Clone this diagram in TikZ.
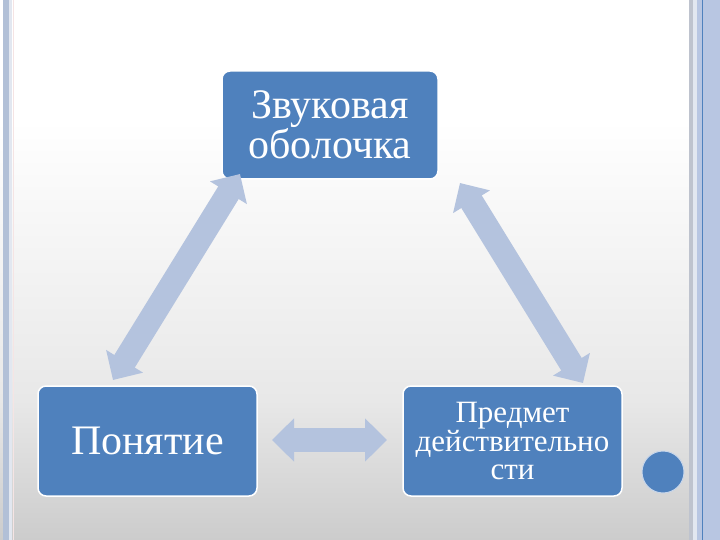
\documentclass[tikz,border=0pt]{standalone}
\usepackage{fontspec}
\setmainfont{Liberation Serif}
\usetikzlibrary{arrows.meta}
\definecolor{boxblue}{RGB}{79,129,189}
\definecolor{arrowblue}{RGB}{180,195,222}
\definecolor{stripeA}{RGB}{178,192,215}
\definecolor{stripeB}{RGB}{226,231,240}
\definecolor{stripeC}{RGB}{184,198,226}
\definecolor{stripeG}{RGB}{190,195,206}
\definecolor{pinkline}{RGB}{245,228,228}
\definecolor{dotrim}{RGB}{200,214,234}
\begin{document}
\begin{tikzpicture}[x=1pt,y=-1pt,
  blockbox/.style={draw=white, line width=1.5pt, fill=boxblue, rounded corners=8pt,
    text=white, align=center, inner sep=0pt},
  bigtext/.style={font=\fontsize{42}{38}\selectfont},
  smalltext/.style={font=\fontsize{31}{28.5}\selectfont},
  blockarrow/.style={draw=arrowblue, line width=24pt,
    {Triangle[width=42pt,length=22pt]}-{Triangle[width=42pt,length=22pt]}}]
\useasboundingbox (0,0) rectangle (720,540);
% background
\fill[white] (0,0) rectangle (720,120);
\shade[top color=white, bottom color={rgb,255:red,232;green,232;blue,232}] (0,120) rectangle (720,400);
\shade[top color={rgb,255:red,232;green,232;blue,232}, bottom color={rgb,255:red,204;green,204;blue,204}] (0,400) rectangle (720,540);
% left border
\fill[stripeA] (3,0) rectangle (9,540);
\fill[stripeB] (9,0) rectangle (12,540);
\draw[pinkline, line width=1pt] (13,0) -- (13,540);
% right border
\fill[stripeG] (689,0) rectangle (693,540);
\fill[stripeB] (693,0) rectangle (697,540);
\fill[stripeC] (697,0) rectangle (720,540);
\draw[boxblue, line width=1.2pt] (702.5,0) -- (702.5,540);
% boxes
\node[blockbox, bigtext, minimum width=216pt, minimum height=108pt] (top) at (330,125)
  {Звуковая\\оболочка};
\node[blockbox, bigtext, minimum width=219pt, minimum height=110pt] (left) at (147.5,441)
  {Понятие};
\node[blockbox, smalltext, minimum width=219pt, minimum height=110pt] (right) at (512.5,441)
  {Предмет\\действительно\\сти};
% arrow end points
\coordinate (lt) at (240,174);
\coordinate (lb) at (113,380);
\coordinate (rt) at (460,183);
\coordinate (rb) at (583,383);
\coordinate (hl) at (272,440);
\coordinate (hr) at (387,440);
\draw[blockarrow] (lt) -- (lb);
\draw[blockarrow] (rt) -- (rb);
\draw[blockarrow] (hl) -- (hr);
% dot
\node[circle, fill=boxblue, draw=dotrim, line width=1pt, minimum size=42pt, inner sep=0pt] (dot) at (663,472) {};
\end{tikzpicture}
\end{document}
